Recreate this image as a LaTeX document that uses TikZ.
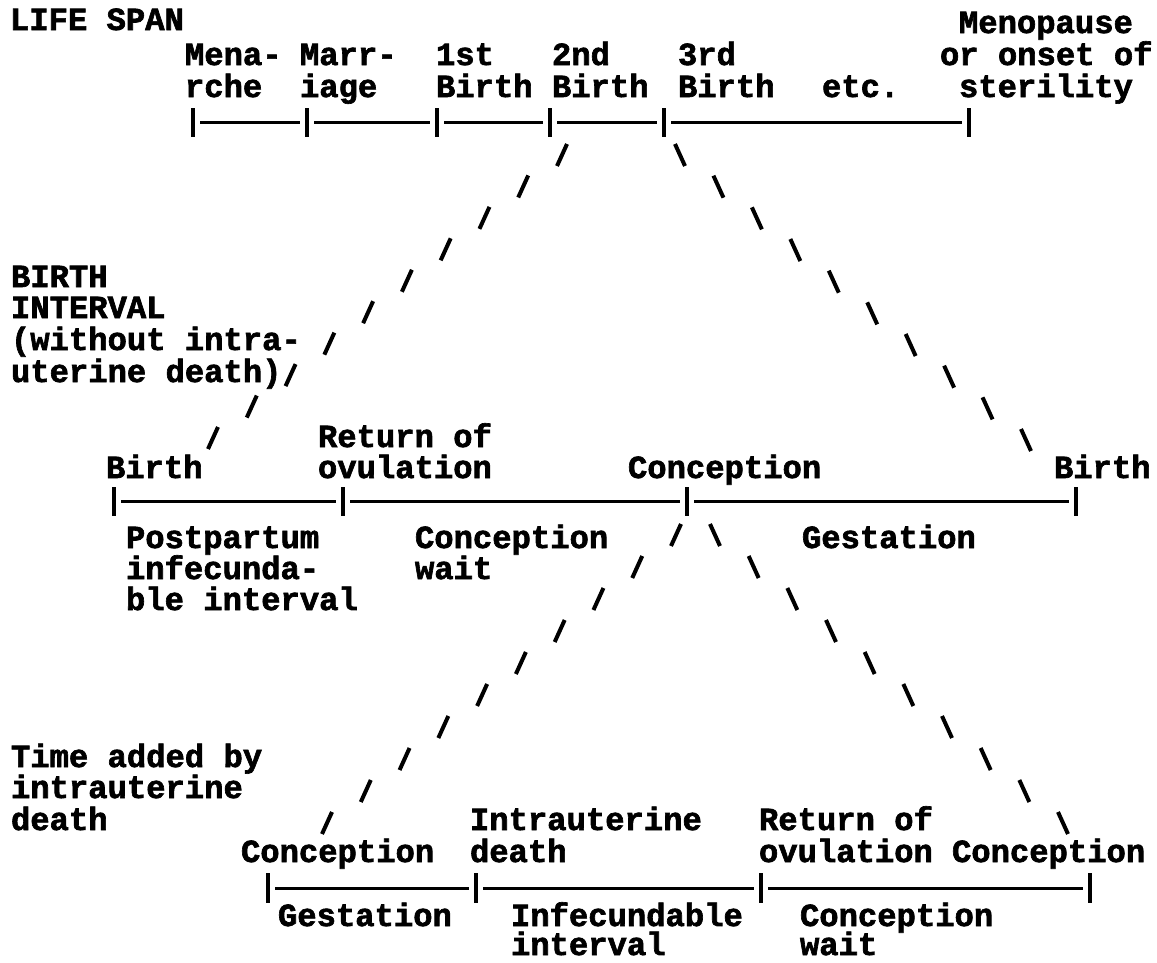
\documentclass[tikz,border=0pt]{standalone}
\usepackage{fontspec}
\usetikzlibrary{calc}
\newfontfamily\tw[BoldFeatures={FakeBold=2}]{Liberation Mono}
\newcommand\lblfont{\tw\bfseries\fontsize{32.2pt}{32pt}\selectfont}
\tikzset{
  lbl/.style={anchor=base west, inner sep=0pt, outer sep=0pt, font=\lblfont},
  barline/.style={line width=3pt},
  tickline/.style={line width=3.2pt},
  slashmark/.style={line width=4pt},
}
\begin{document}
\begin{tikzpicture}[x=1pt,y=-1pt]
\fill[white] (0,0) rectangle (1157,962);
\useasboundingbox (0,0) rectangle (1157,962);

% ---------- top: life span ----------
\node[lbl] (life) at (10,30) {LIFE SPAN};
\node[lbl] (menop) at (959,33) {Menopause};
\node[lbl] (mena1) at (185,65) {Mena-};
\node[lbl] (mena2) at (185,97) {rche};
\node[lbl] (marr1) at (300,65) {Marr-};
\node[lbl] (marr2) at (300,97) {iage};
\node[lbl] (bfa) at (436,65) {1st};
\node[lbl] (bfb) at (436,97) {Birth};
\node[lbl] (bsa) at (552,65) {2nd};
\node[lbl] (bsb) at (552,97) {Birth};
\node[lbl] (bta) at (678,65) {3rd};
\node[lbl] (btb) at (678,97) {Birth};
\node[lbl] (etc) at (822,97) {etc.};
\node[lbl] (onset) at (940,65) {or onset of};
\node[lbl] (steril) at (959,97) {sterility};

\foreach \x [count=\k] in {193,307,437,550,664,969} \coordinate (tt\k) at (\x,122);
\foreach \k in {1,...,6} \draw[tickline] (tt\k) ++(0,-14) -- ++(0,29);
\foreach \a/\b in {1/2,2/3,3/4,4/5,5/6} \draw[barline] ([xshift=7pt]tt\a) -- ([xshift=-7pt]tt\b);

% ---------- birth interval ----------
\node[lbl] (bi1) at (11,287) {BIRTH};
\node[lbl] (bi2) at (11,318) {INTERVAL};
\node[lbl] (bi3) at (11,350) {(without intra-};
\node[lbl] (bi4) at (11,382) {uterine death)};

\node[lbl] (ret1) at (318,447) {Return of};
\node[lbl] (ret2) at (318,478) {ovulation};
\node[lbl] (bm1) at (106,478) {Birth};
\node[lbl] (concm) at (628,478) {Conception};
\node[lbl] (bm2) at (1054,478) {Birth};

\foreach \x [count=\k] in {114,343,687,1076} \coordinate (mt\k) at (\x,501);
\foreach \k in {1,...,4} \draw[tickline] (mt\k) ++(0,-14) -- ++(0,29);
\foreach \a/\b in {1/2,2/3,3/4} \draw[barline] ([xshift=7pt]mt\a) -- ([xshift=-7pt]mt\b);

\node[lbl] (post1) at (126,548) {Postpartum};
\node[lbl] (post2) at (126,579) {infecunda-};
\node[lbl] (post3) at (126,610) {ble interval};
\node[lbl] (cw1) at (415,548) {Conception};
\node[lbl] (cw2) at (415,579) {wait};
\node[lbl] (gest) at (802,548) {Gestation};

% ---------- time added by intrauterine death ----------
\node[lbl] (ta1) at (11,767) {Time added by};
\node[lbl] (ta2) at (11,798) {intrauterine};
\node[lbl] (ta3) at (11,830) {death};

\node[lbl] (iu1) at (470,830) {Intrauterine};
\node[lbl] (iu2) at (470,862) {death};
\node[lbl] (rov1) at (759,830) {Return of};
\node[lbl] (rov2) at (759,862) {ovulation};
\node[lbl] (cb1) at (241,862) {Conception};
\node[lbl] (cb2) at (952,862) {Conception};

\foreach \x [count=\k] in {268,476,761,1090} \coordinate (bt\k) at (\x,888);
\foreach \k in {1,...,4} \draw[tickline] (bt\k) ++(0,-15) -- ++(0,30);
\foreach \a/\b in {1/2,2/3,3/4} \draw[barline] ([xshift=7pt]bt\a) -- ([xshift=-7pt]bt\b);

\node[lbl] (gest2) at (278,926) {Gestation};
\node[lbl] (inf1) at (511,926) {Infecundable};
\node[lbl] (inf2) at (511,955) {interval};
\node[lbl] (cwb1) at (800,926) {Conception};
\node[lbl] (cwb2) at (800,955) {wait};

% ---------- slashed connectors ----------
\coordinate (ula) at (562,155); \coordinate (ulb) at (213,438);
\coordinate (ura) at (680,155); \coordinate (urb) at (1026,440);
\coordinate (lla) at (676,535); \coordinate (llb) at (327,823);
\coordinate (lra) at (715,535); \coordinate (lrb) at (1063,823);
\foreach \i in {0,...,9} {
  \draw[slashmark] ($(ula)!\i/9!(ulb)$) +(-5,11) -- +(5,-11);
  \draw[slashmark] ($(ura)!\i/9!(urb)$) +(-5,-11) -- +(5,11);
  \draw[slashmark] ($(lla)!\i/9!(llb)$) +(-5,11) -- +(5,-11);
  \draw[slashmark] ($(lra)!\i/9!(lrb)$) +(-5,-11) -- +(5,11);
}
\end{tikzpicture}
\end{document}
